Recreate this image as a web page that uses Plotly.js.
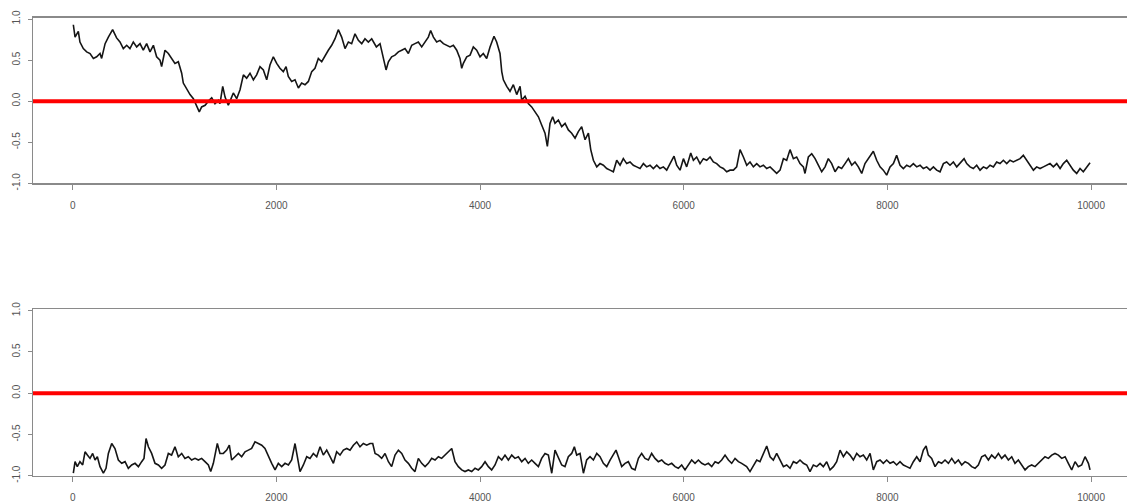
<!DOCTYPE html>
<html>
<head>
<meta charset="utf-8">
<script src="https://cdn.plot.ly/plotly-3.0.1.min.js"></script>
<style>
  html, body { margin: 0; padding: 0; background: #fff; }
  #chart { width: 1127px; height: 502px; }
</style>
</head>
<body>
<div id="chart"></div>
<script>
// Chain 1: iteration index and sampled value
const iterTop = [6,23,55,71,104,137,170,203,235,268,284,318,350,392,431,464,497,530,562,595,628,661,693,726,759,792,824,857,873,906,939,971,1004,1037,1070,1086,1119,1152,1185,1217,1243,1266,1300,1332,1365,1397,1430,1446,1473,1496,1528,1545,1577,1610,1643,1676,1708,1741,1774,1806,1839,1872,1905,1937,1970,2003,2035,2068,2095,2117,2150,2183,2216,2248,2281,2314,2347,2379,2412,2445,2478,2510,2543,2576,2608,2641,2674,2707,2739,2772,2805,2838,2870,2903,2936,2982,
  3018,3051,3077,3100,3132,3165,3198,3231,3263,3296,3329,3361,3394,3427,3460,3492,3515,3542,3574,3607,3640,3673,3705,3738,3771,3803,3820,3836,3869,3902,3934,3967,4000,4032,4065,4098,4137,4163,4196,4213,4229,4262,4294,4327,4360,4393,4409,4442,4474,4507,4540,4573,4605,4638,4661,4687,4713,4736,4769,4802,4835,4867,4900,4933,4965,4998,5031,5064,5087,5113,5146,5178,5211,5244,5276,5309,5342,5375,5407,5440,5473,5505,5538,5571,5604,5636,5669,5702,5735,5767,5800,5833,5866,5905,5931,5964,5997,6029,6069,6095,6127,6160,6193,6226,6259,6291,6324,6357,6389,6422,6455,6488,6520,6553,6586,6619,
  6651,6684,6717,6749,6782,6815,6848,6880,6913,6946,6979,7011,7044,7077,7109,7142,7175,7191,7224,7257,7290,7322,7355,7388,7420,7453,7486,7519,7551,7584,7617,7650,7682,7715,7748,7780,7813,7846,7862,7895,7928,7960,7993,8026,8059,8091,8124,8157,8190,8222,8255,8288,8321,8353,8386,8419,8452,8484,8517,8550,8582,8615,8648,8681,8713,8753,8779,8812,8844,8877,8910,8943,8975,9008,9041,9073,9106,9139,9172,9204,9237,9270,9303,9335,9368,9401,9434,9466,9499,9532,9565,9597,9630,9663,9696,9728,9761,9794,9826,9859,9892,9924,9957,9990];
const valTop = [0.93,0.78,0.85,0.72,0.64,0.60,0.58,0.52,0.54,0.58,0.52,0.70,0.78,0.87,0.77,0.72,0.64,0.68,0.64,0.72,0.66,0.70,0.62,0.70,0.60,0.68,0.54,0.50,0.42,0.62,0.58,0.52,0.46,0.48,0.34,0.22,0.14,0.08,0.03,-0.07,-0.13,-0.07,-0.05,0.00,0.04,-0.03,0.01,-0.03,0.18,0.05,-0.05,0.00,0.10,0.03,0.14,0.32,0.28,0.34,0.26,0.32,0.42,0.38,0.26,0.44,0.54,0.46,0.40,0.36,0.42,0.30,0.24,0.26,0.16,0.22,0.20,0.24,0.36,0.40,0.52,0.48,0.56,0.62,0.68,0.76,0.87,0.78,0.64,0.72,0.70,0.82,0.74,0.70,0.76,0.72,0.76,0.66,
  0.70,0.52,0.38,0.48,0.54,0.56,0.60,0.62,0.64,0.58,0.68,0.70,0.72,0.66,0.72,0.78,0.86,0.78,0.72,0.74,0.70,0.68,0.66,0.68,0.62,0.52,0.40,0.46,0.54,0.56,0.66,0.62,0.54,0.58,0.52,0.66,0.79,0.72,0.58,0.36,0.26,0.18,0.12,0.20,0.08,0.18,0.01,0.06,-0.03,-0.07,-0.13,-0.19,-0.29,-0.39,-0.55,-0.27,-0.19,-0.27,-0.23,-0.31,-0.27,-0.35,-0.39,-0.45,-0.37,-0.31,-0.47,-0.39,-0.59,-0.72,-0.80,-0.76,-0.78,-0.82,-0.84,-0.86,-0.72,-0.78,-0.70,-0.76,-0.74,-0.78,-0.80,-0.82,-0.76,-0.80,-0.78,-0.82,-0.78,-0.82,-0.80,-0.84,-0.76,-0.67,-0.78,-0.84,-0.70,-0.80,-0.63,-0.72,-0.68,-0.76,-0.70,-0.72,-0.68,-0.74,-0.76,-0.80,-0.82,-0.86,-0.84,-0.84,-0.80,-0.59,-0.68,-0.78,
  -0.74,-0.80,-0.76,-0.80,-0.78,-0.82,-0.80,-0.84,-0.88,-0.84,-0.70,-0.72,-0.59,-0.70,-0.68,-0.76,-0.80,-0.88,-0.68,-0.64,-0.70,-0.78,-0.86,-0.80,-0.70,-0.76,-0.86,-0.80,-0.82,-0.76,-0.70,-0.78,-0.74,-0.80,-0.88,-0.76,-0.70,-0.64,-0.61,-0.72,-0.80,-0.84,-0.90,-0.80,-0.76,-0.66,-0.78,-0.82,-0.78,-0.80,-0.76,-0.80,-0.78,-0.82,-0.80,-0.84,-0.80,-0.84,-0.86,-0.76,-0.74,-0.78,-0.74,-0.80,-0.76,-0.70,-0.76,-0.80,-0.82,-0.78,-0.84,-0.80,-0.82,-0.78,-0.80,-0.74,-0.76,-0.72,-0.76,-0.72,-0.74,-0.72,-0.70,-0.66,-0.72,-0.78,-0.84,-0.80,-0.82,-0.80,-0.78,-0.76,-0.80,-0.76,-0.82,-0.76,-0.72,-0.78,-0.84,-0.88,-0.82,-0.86,-0.80,-0.75];

// Chain 2: iteration index and sampled value
const iterBottom = [6,23,45,71,98,121,144,170,196,219,242,268,301,327,350,383,415,448,481,514,546,579,612,645,677,700,720,743,775,808,841,873,906,939,971,1004,1037,1070,1102,1135,1168,1201,1234,1266,1299,1332,1355,1381,1420,1446,1479,1512,1538,1561,1594,1627,1659,1692,1725,1757,1790,1823,1856,1888,1921,1954,1987,2019,2052,2085,2118,2150,2183,2209,2232,2265,2298,2330,2363,2396,2429,2461,2494,2527,2560,2592,2625,2658,2691,2723,2756,2789,2821,2854,2887,2920,2946,
  2969,3001,3034,3067,3100,3132,3165,3198,3231,3263,3296,3329,3361,3394,3427,3460,3492,3525,3558,3591,3623,3656,3689,3722,3754,3787,3820,3852,3885,3918,3951,3983,4016,4049,4082,4114,4147,4180,4213,4245,4278,4311,4343,4376,4409,4442,4474,4507,4540,4573,4605,4638,4671,4704,4736,4769,4802,4834,4867,4900,4926,4949,4982,5015,5047,5080,5113,5146,5178,5211,5244,5277,5309,5335,5358,5391,5424,5456,5489,5522,5555,5587,5620,5653,5685,5718,5751,5784,5816,5849,5882,5915,5947,5980,6013,6046,6078,6111,6144,6177,6209,6242,6275,6308,6340,6373,6406,6439,6471,6504,6537,6569,
  6618,6651,6684,6717,6749,6782,6815,6848,6880,6913,6946,6979,7011,7044,7077,7109,7142,7175,7208,7240,7273,7306,7339,7371,7404,7437,7470,7502,7535,7568,7600,7633,7666,7699,7731,7764,7797,7830,7862,7895,7928,7960,7993,8026,8059,8091,8124,8157,8190,8222,8255,8288,8321,8353,8380,8402,8435,8468,8501,8533,8566,8599,8632,8664,8697,8730,8763,8795,8828,8861,8893,8926,8959,8992,9024,9057,9090,9122,9155,9188,9221,9253,9286,9319,9352,9384,9417,9450,9483,9515,9548,9581,9614,9646,9679,9712,9745,9777,9810,9843,9875,9908,9941,9974,9990];
const valBottom = [-0.97,-0.83,-0.89,-0.83,-0.87,-0.71,-0.75,-0.79,-0.73,-0.81,-0.77,-0.89,-0.97,-0.91,-0.73,-0.61,-0.67,-0.81,-0.85,-0.83,-0.91,-0.87,-0.85,-0.89,-0.83,-0.79,-0.55,-0.65,-0.73,-0.85,-0.87,-0.91,-0.87,-0.73,-0.75,-0.65,-0.77,-0.73,-0.79,-0.77,-0.81,-0.79,-0.81,-0.79,-0.83,-0.87,-0.95,-0.85,-0.61,-0.73,-0.73,-0.69,-0.63,-0.81,-0.77,-0.73,-0.77,-0.71,-0.69,-0.67,-0.59,-0.61,-0.63,-0.67,-0.77,-0.85,-0.93,-0.85,-0.89,-0.85,-0.87,-0.81,-0.61,-0.77,-0.95,-0.87,-0.77,-0.79,-0.73,-0.77,-0.65,-0.75,-0.69,-0.77,-0.85,-0.71,-0.75,-0.69,-0.67,-0.69,-0.63,-0.59,-0.65,-0.61,-0.63,-0.61,-0.61,
  -0.73,-0.75,-0.79,-0.73,-0.83,-0.89,-0.75,-0.69,-0.73,-0.81,-0.85,-0.91,-0.95,-0.79,-0.85,-0.89,-0.85,-0.79,-0.81,-0.77,-0.79,-0.75,-0.71,-0.67,-0.83,-0.89,-0.93,-0.95,-0.93,-0.95,-0.91,-0.93,-0.89,-0.83,-0.89,-0.93,-0.87,-0.77,-0.81,-0.75,-0.81,-0.75,-0.79,-0.77,-0.83,-0.79,-0.85,-0.81,-0.85,-0.89,-0.79,-0.73,-0.75,-0.97,-0.69,-0.77,-0.87,-0.89,-0.77,-0.73,-0.65,-0.75,-0.73,-0.97,-0.81,-0.77,-0.81,-0.73,-0.77,-0.85,-0.89,-0.81,-0.75,-0.69,-0.77,-0.89,-0.85,-0.83,-0.91,-0.93,-0.79,-0.73,-0.79,-0.81,-0.73,-0.79,-0.83,-0.81,-0.85,-0.87,-0.85,-0.89,-0.91,-0.87,-0.93,-0.87,-0.81,-0.85,-0.81,-0.85,-0.87,-0.85,-0.89,-0.83,-0.85,-0.81,-0.75,-0.81,-0.85,-0.79,-0.83,-0.85,
  -0.89,-0.95,-0.87,-0.81,-0.83,-0.73,-0.64,-0.77,-0.81,-0.73,-0.81,-0.89,-0.87,-0.91,-0.83,-0.85,-0.81,-0.85,-0.87,-0.95,-0.87,-0.89,-0.85,-0.89,-0.83,-0.93,-0.89,-0.83,-0.69,-0.77,-0.71,-0.75,-0.81,-0.73,-0.77,-0.75,-0.81,-0.73,-0.93,-0.83,-0.81,-0.85,-0.81,-0.85,-0.83,-0.87,-0.83,-0.87,-0.89,-0.91,-0.83,-0.77,-0.83,-0.69,-0.64,-0.75,-0.79,-0.89,-0.83,-0.85,-0.81,-0.85,-0.79,-0.85,-0.81,-0.87,-0.83,-0.85,-0.89,-0.91,-0.87,-0.77,-0.75,-0.81,-0.75,-0.79,-0.73,-0.79,-0.75,-0.81,-0.77,-0.85,-0.81,-0.87,-0.93,-0.89,-0.87,-0.89,-0.85,-0.81,-0.77,-0.79,-0.75,-0.73,-0.75,-0.79,-0.77,-0.85,-0.93,-0.83,-0.89,-0.87,-0.77,-0.85,-0.93];

// Axis ticks and the horizontal reference level
const xTicks = [0, 2000, 4000, 6000, 8000, 10000];
const xTickText = ['0', '2000', '4000', '6000', '8000', '10000'];
const yTicks = [-1, -0.5, 0, 0.5, 1];
const yTickText = ['-1.0', '-0.5', '0.0', '0.5', '1.0'];
const refLevel = 0;

const axisGrey = '#8a8a8a';
const labelFont = { family: 'Liberation Sans, Arial, sans-serif', size: 10, color: '#555555' };

function xAxis(anchor) {
  return {
    anchor: anchor,
    domain: [33 / 1127, 1],
    range: [-390, 10353],
    tickmode: 'array', tickvals: xTicks, ticktext: xTickText,
    ticks: 'outside', ticklen: 5, tickwidth: 1, tickcolor: axisGrey,
    showline: true, linecolor: axisGrey, linewidth: 1.5, mirror: true,
    showgrid: false, zeroline: false,
    tickfont: labelFont, ticklabelstandoff: 7,
    automargin: false, fixedrange: true
  };
}
function yAxis(anchor, domain, top) {
  return {
    anchor: anchor,
    domain: domain,
    range: [-1, top],
    tickmode: 'array', tickvals: yTicks, ticktext: yTickText,
    ticks: 'outside', ticklen: 4, tickwidth: 1, tickcolor: axisGrey,
    showline: true, linecolor: axisGrey, linewidth: 1.5, mirror: false,
    showgrid: false, zeroline: false,
    tickangle: -90, tickfont: labelFont, ticklabelstandoff: 4,
    automargin: false, fixedrange: true
  };
}

// Dense sampled chains: a slightly heavier stroke keeps the jittery band look
const chainLine = { color: '#151515', width: 1.6, shape: 'linear' };

const traces = [
  { x: iterTop, y: valTop, xaxis: 'x', yaxis: 'y', type: 'scatter', mode: 'lines',
    line: chainLine, hoverinfo: 'skip' },
  { x: iterBottom, y: valBottom, xaxis: 'x2', yaxis: 'y2', type: 'scatter', mode: 'lines',
    line: chainLine, hoverinfo: 'skip' }
];

const layout = {
  width: 1127, height: 502,
  margin: { l: 0, r: 0, t: 0, b: 0 },
  paper_bgcolor: '#ffffff', plot_bgcolor: '#ffffff',
  showlegend: false,
  xaxis: xAxis('y'),
  yaxis: yAxis('x', [1 - 183.3 / 502, 1 - 17.7 / 502], 1.016),
  xaxis2: xAxis('y2'),
  yaxis2: yAxis('x2', [1 - 475.7 / 502, 1 - 309.3 / 502], 1.017),
  shapes: [
    { type: 'line', xref: 'x domain', yref: 'y', x0: 0, x1: 1, y0: refLevel, y1: refLevel,
      line: { color: '#ff0000', width: 4 }, layer: 'above' },
    { type: 'line', xref: 'x2 domain', yref: 'y2', x0: 0, x1: 1, y0: refLevel, y1: refLevel,
      line: { color: '#ff0000', width: 4 }, layer: 'above' }
  ]
};

Plotly.newPlot('chart', traces, layout, { staticPlot: true, displayModeBar: false });
</script>
</body>
</html>
